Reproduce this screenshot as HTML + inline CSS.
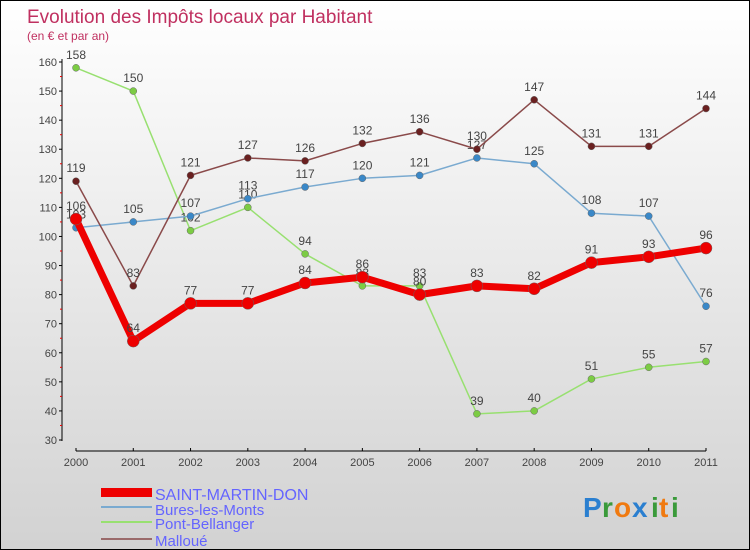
<!DOCTYPE html>
<html><head><meta charset="utf-8"><style>
body{margin:0}
#c{width:748px;height:548px;border:1px solid #000;background:linear-gradient(#fff,#d2d2d2);position:relative;font-family:"Liberation Sans",sans-serif;overflow:hidden}
</style></head><body>
<div id="c">
<svg id="s" width="748" height="548" style="position:absolute;left:0;top:0" font-family="Liberation Sans, sans-serif">
<text x="26" y="22" font-size="19" fill="#c03060">Evolution des Impôts locaux par Habitant</text>
<text x="26" y="39" font-size="12" fill="#c03060">(en € et par an)</text>
<g id="axes"></g><g id="series"></g>
<g>
<rect x="100" y="487" width="51" height="9" fill="#e00"/>
<text x="154" y="499" font-size="16" fill="#6464ff">SAINT-MARTIN-DON</text>
<rect x="100" y="505" width="51" height="2" fill="#7aaad0"/>
<text x="154" y="514" font-size="15" fill="#6464ff">Bures-les-Monts</text>
<rect x="100" y="520" width="51" height="2" fill="#98e070"/>
<text x="154" y="528" font-size="15" fill="#6464ff">Pont-Bellanger</text>
<rect x="100" y="537" width="51" height="2" fill="#9a6a6a"/>
<text x="154" y="545" font-size="15" fill="#6464ff">Malloué</text>
</g>
<g font-size="28" font-weight="bold">
<text x="582" y="516" fill="#2a7fd0">P</text><text x="601" y="516" fill="#3a9a3a">r</text><text x="613" y="516" fill="#f07a10">o</text><text x="631" y="516" fill="#2a7fd0">x</text><text x="650" y="516" fill="#3a9a3a">i</text><text x="658" y="516" fill="#f07a10">t</text><text x="670" y="516" fill="#3a9a3a">i</text>
</g>
</svg>
</div>
<script>
const years=["2000","2001","2002","2003","2004","2005","2006","2007","2008","2009","2010","2011"];
const yTicks=[30,40,50,60,70,80,90,100,110,120,130,140,150,160];
const saint=[106,64,77,77,84,86,80,83,82,91,93,96];
const bures=[103,105,107,113,117,120,121,127,125,108,107,76];
const pont=[158,150,102,110,94,83,83,39,40,51,55,57];
const malloue=[119,83,121,127,126,132,136,130,147,131,131,144];
const NS="http://www.w3.org/2000/svg";
const X=i=>75+i*(630/11);
const Y=v=>439-(v-30)*(378/130);
function mk(t,a,p){const e=document.createElementNS(NS,t);for(const k in a)e.setAttribute(k,a[k]);p.appendChild(e);return e;}
const ax=document.getElementById('axes');
let yl=mk('line',{x1:61,y1:58,x2:61,y2:440,stroke:'#000'},ax);


yTicks.forEach(v=>{
 mk('line',{x1:58,y1:Y(v),x2:61,y2:Y(v),stroke:'#000'},ax);
 if(v<160)mk('line',{x1:59,y1:Y(v+5),x2:61,y2:Y(v+5),stroke:'#e00'},ax);
 const t=mk('text',{x:56,y:Y(v)+4,'font-size':11,fill:'#444','text-anchor':'end'},ax);t.textContent=v;
 
 
});
let xl=mk('line',{x1:75,y1:450,x2:705,y2:450,stroke:'#000'},ax);


years.forEach((y,i)=>{
 mk('line',{x1:X(i),y1:447,x2:X(i),y2:450,stroke:'#000'},ax);
 const t=mk('text',{x:X(i),y:465,'font-size':11,fill:'#444','text-anchor':'middle'},ax);t.textContent=y;
 
 
});
const sg=document.getElementById('series');
function draw(data,color,dot,w,r,name){
 const g=mk('g',{},sg);
 
 
 mk('polyline',{points:data.map((v,i)=>X(i)+','+Y(v)).join(' '),fill:'none',stroke:color,'stroke-width':w,'stroke-linejoin':'round'},g);
 data.forEach((v,i)=>{
  const c=mk('circle',{cx:X(i),cy:Y(v),r:r,fill:dot,stroke:'#666','stroke-width':0.5},g);
  
  
  const t=mk('text',{x:X(i),y:Y(v)-9,'font-size':12,fill:'#444','text-anchor':'middle'},g);t.textContent=v;
  
  
 });
}
draw(pont,'#98e070','#7ccc44',1.5,3.5,'pont-bellanger');
draw(bures,'#7aaad0','#3a88c8',1.5,3.5,'bures-les-monts');
draw(malloue,'#8a4a4a','#6a2020',1.5,3.5,'malloue');
draw(saint,'#ee0000','#ee0000',7,6,'saint-martin-don');
</script>
</body></html>
